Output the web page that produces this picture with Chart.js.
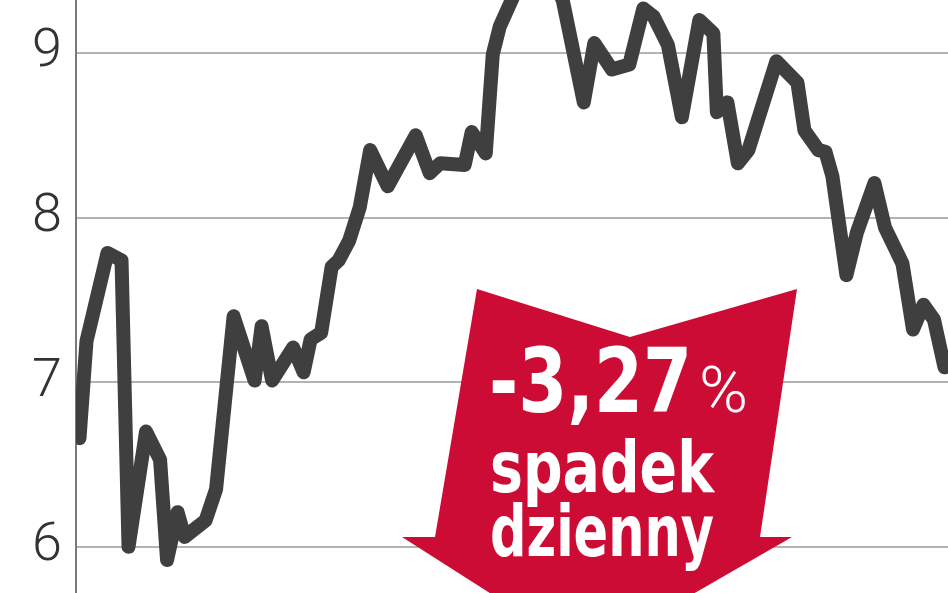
<!DOCTYPE html>
<html>
<head>
<meta charset="utf-8">
<script src="https://cdn.jsdelivr.net/npm/chart.js@4.4.1/dist/chart.umd.min.js"></script>
<style>
  html, body { margin: 0; padding: 0; background: #ffffff; }
  #wrap { width: 948px; height: 593px; }
</style>
</head>
<body>
<div id="wrap"><canvas id="c" width="948" height="593"></canvas></div>
<script>
// ---- data ----
const sessions = [1,3,9,13,15,20,24,26,29,31,37,40,45,51,53,56,62,65,67,70,73,75,78,81,84,89,97,101,104,111,113,117,119,121,125,130,135,139,145,148,153,158,162,165,169,173,178,182,183,186,189,192,200,206,208,212,214,216,220,223,228,231,236,239,242,245,248];
const prices   = [6.66,7.25,7.785,7.74,6.00,6.70,6.53,5.92,6.21,6.06,6.16,6.35,7.40,7.01,7.34,7.01,7.21,7.06,7.26,7.30,7.70,7.74,7.86,8.06,8.41,8.19,8.50,8.27,8.33,8.32,8.52,8.39,8.99,9.16,9.35,9.53,9.50,9.32,8.70,9.06,8.90,8.93,9.27,9.22,9.05,8.61,9.20,9.12,8.64,8.70,8.33,8.41,8.95,8.82,8.53,8.41,8.40,8.25,7.65,7.91,8.21,7.94,7.72,7.32,7.47,7.38,7.09];
const yTicks   = [6, 7, 8, 9];
const changeText = "-3,27";
const percentText = "%";
const captionLines = ["spadek", "dzienny"];

const points = sessions.map((s, i) => ({ x: s, y: prices[i] }));

const arrowPlugin = {
  id: 'arrowNote',
  afterDraw(chart) {
    const ctx = chart.ctx;
    ctx.save();
    // red arrow
    ctx.beginPath();
    ctx.moveTo(477, 289);
    ctx.lineTo(630, 337);
    ctx.lineTo(797, 289);
    ctx.lineTo(760, 537);
    ctx.lineTo(792, 537);
    ctx.lineTo(587, 655);
    ctx.lineTo(402, 537);
    ctx.lineTo(435, 537);
    ctx.closePath();
    ctx.fillStyle = '#cc0c35';
    ctx.fill();

    ctx.fillStyle = '#ffffff';
    ctx.textBaseline = 'alphabetic';
    ctx.textAlign = 'left';
    function fitText(txt, font, x0, x1, baseline) {
      ctx.font = font;
      const w = ctx.measureText(txt).width;
      ctx.save();
      ctx.translate(x0, baseline);
      ctx.scale((x1 - x0) / w, 1);
      ctx.fillText(txt, 0, 0);
      ctx.restore();
    }
    const fam = '"Liberation Sans Narrow", "DejaVu Sans Condensed", "Liberation Sans", sans-serif';
    fitText(changeText, 'bold 89px ' + fam, 489, 692, 412);
    fitText(percentText, '300 64px Roboto, ' + fam, 699, 748, 412);
    fitText(captionLines[0], 'bold 72px ' + fam, 490, 714, 492);
    fitText(captionLines[1], 'bold 72px ' + fam, 490, 714, 556);
    ctx.restore();
  }
};

new Chart(document.getElementById('c'), {
  type: 'line',
  data: {
    datasets: [{
      data: points,
      borderColor: '#3f3f3f',
      borderWidth: 14,
      borderJoinStyle: 'round',
      borderCapStyle: 'round',
      tension: 0,
      pointRadius: 0,
      fill: false
    }]
  },
  options: {
    responsive: false,
    animation: false,
    devicePixelRatio: 1,
    layout: { padding: 0 },
    plugins: { legend: { display: false }, tooltip: { enabled: false } },
    scales: {
      x: {
        type: 'linear',
        min: 0,
        max: 249,
        display: false
      },
      y: {
        type: 'linear',
        min: 5.719,
        max: 9.322,
        afterBuildTicks: (axis) => { axis.ticks = yTicks.map(v => ({ value: v })); },
        afterFit: (axis) => { axis.width = 76; axis.paddingTop = 0; axis.paddingBottom = 0; },
        border: { display: true, color: '#7a7a7a', width: 2 },
        grid: { color: '#b3b3b3', lineWidth: 2, drawTicks: false },
        ticks: {
          padding: 14,
          color: '#333333',
          font: { family: 'Roboto, "Open Sans", sans-serif', size: 54, weight: 300 },
          callback: (v) => String(v)
        }
      }
    }
  },
  plugins: [arrowPlugin]
});
</script>
</body>
</html>
